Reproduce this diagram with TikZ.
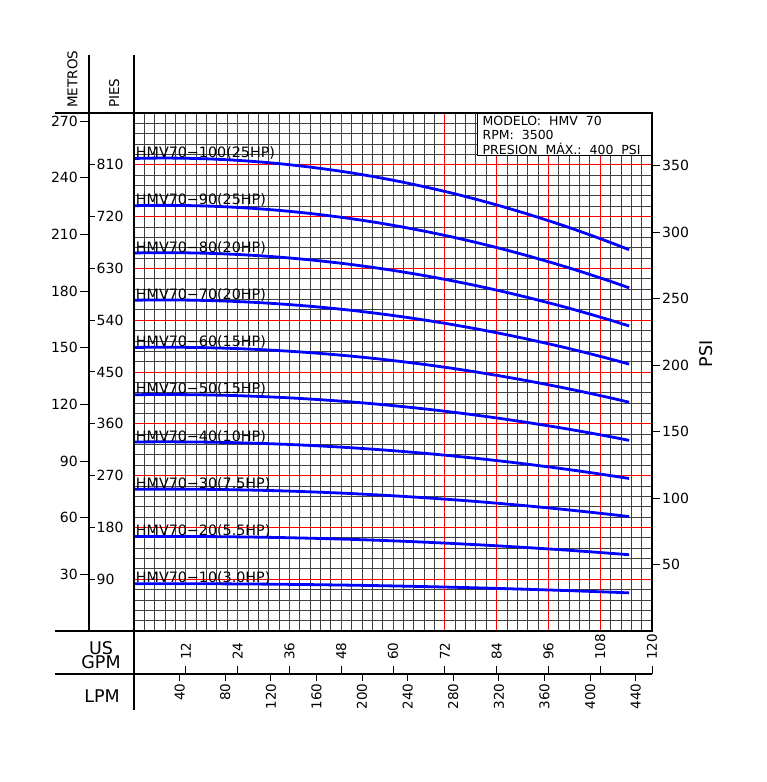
\documentclass[tikz,border=0pt]{standalone}
\usepackage{fontspec}
\setmainfont{DejaVu Sans}
\tikzset{
    fine/.style={draw=black!75, line width=0.8pt},
    major/.style={draw=red, line width=0.8pt},
    frame/.style={draw=black, line width=1.2pt},
    tick/.style={draw=black, line width=1pt},
    curve/.style={draw=blue, line width=2.8pt},
    num/.style={inner sep=0pt, font=\fontsize{14}{14}\selectfont},
    flownum/.style={inner sep=0pt, font=\fontsize{13.5}{13.5}\selectfont},
    lbl/.style={inner sep=0pt, font=\fontsize{14.3}{14.3}\selectfont},
    leg/.style={inner sep=0pt, font=\fontsize{12.5}{12.5}\selectfont},
    ttl/.style={inner sep=0pt, font=\fontsize{17.5}{14.3}\selectfont},
    axttl/.style={inner sep=0pt, font=\fontsize{13.5}{13.5}\selectfont}
}

\begin{document}
\begin{tikzpicture}[x=1pt, y=1pt]
    \useasboundingbox (0,0) rectangle (766,782);
    % grid: GPM 0..120 across, feet 0..900 up
    \begin{scope}[shift={(134,151)}, xscale=4.316667, yscale=0.575556]
        \foreach \i in {1,...,49} {
            \draw[fine] (\i*2.4,0) -- (\i*2.4,900);
            \draw[fine] (0,\i*18) -- (120,\i*18);
        }
        \foreach \i in {1,...,9} {
            \draw[major] (\i*12,0) -- (\i*12,900);
            \draw[major] (0,\i*90) -- (120,\i*90);
        }
    \end{scope}
    \draw[fill=white, line width=0.8pt] (477,627) rectangle (652,669);
    \node[leg, anchor=base west] (model) at (482.5,656.3) {MODELO:\ \ HMV\ \ 70};
    \node[leg, anchor=base west] (rpm) at (482.5,642.1) {RPM:\ \ 3500};
    \node[leg, anchor=base west] (pmax) at (482.5,627.9) {PRESION\ \ MÁX.:\ \ 400\ \ PSI};
    % pump curves
    \begin{scope}[shift={(134,151)}, xscale=4.316667, yscale=0.575556]
        \foreach \n/\hp in {10/3.0,20/5.5,30/7.5,40/10,50/15,60/15,70/20,80/20,90/25,100/25} {
            \draw[curve] plot[domain=0:114.7, samples=40] (\x, {\n*(8.21+0.00192*\x-0.0001403*\x*\x)});
            \node[lbl, anchor=base west] (c\n) at (0.4, \n*8.21+1.5) {HMV70−\n(\hp HP)};
        }
    \end{scope}
    % side scales
    \begin{scope}[shift={(0,151)}, yscale=0.575556]
        \foreach \m in {30,60,...,270} {
            \draw[tick] (80,\m*3.28084) -- (89,\m*3.28084);
            \node[num, anchor=east] (m\m) at (78,\m*3.28084) {\m};
        }
        \foreach \f in {90,180,...,810} {
            \draw[tick] (89,\f) -- (95,\f);
            \node[num, anchor=west] (f\f) at (96.5,\f) {\f};
        }
        \foreach \p in {50,100,...,350} {
            \draw[tick] (652,\p*2.31) -- (660,\p*2.31);
            \node[num, anchor=west] (p\p) at (662,\p*2.31) {\p};
        }
    \end{scope}
    % flow scales
    \begin{scope}[shift={(134,0)}, xscale=4.316667]
        \foreach \g in {12,24,...,120} {
            \draw[tick] (\g,108) -- (\g,116);
            \node[flownum, rotate=90, anchor=west] (g\g) at (\g,122) {\g};
        }
        \foreach \l in {40,80,...,440} {
            \draw[tick] (\l*0.264172,108) -- (\l*0.264172,101);
            \node[flownum, rotate=90, anchor=east] (l\l) at (\l*0.264172,98.5) {\l};
        }
    \end{scope}
    % frame
    \draw[frame] (134,151) rectangle (652,669);
    \draw[frame] (55,669) -- (134,669);
    \draw[frame] (55,151) -- (134,151);
    \draw[frame] (55,108) -- (652,108);
    \draw[frame] (89,727) -- (89,151);
    \draw[frame] (134,727) -- (134,72);
    \node[axttl, rotate=90, anchor=base west] (metros) at (77.3,674) {METROS};
    \node[axttl, rotate=90, anchor=base west] (pies) at (119,674) {PIES};
    \node[ttl, align=center, anchor=north] (usgpm) at (101,140.5) {US\\GPM};
    \node[ttl, anchor=base] (lpm) at (102,79.3) {LPM};
    \node[ttl, rotate=90, anchor=base] (psi) at (712.7,428) {PSI};
\end{tikzpicture}
\end{document}
